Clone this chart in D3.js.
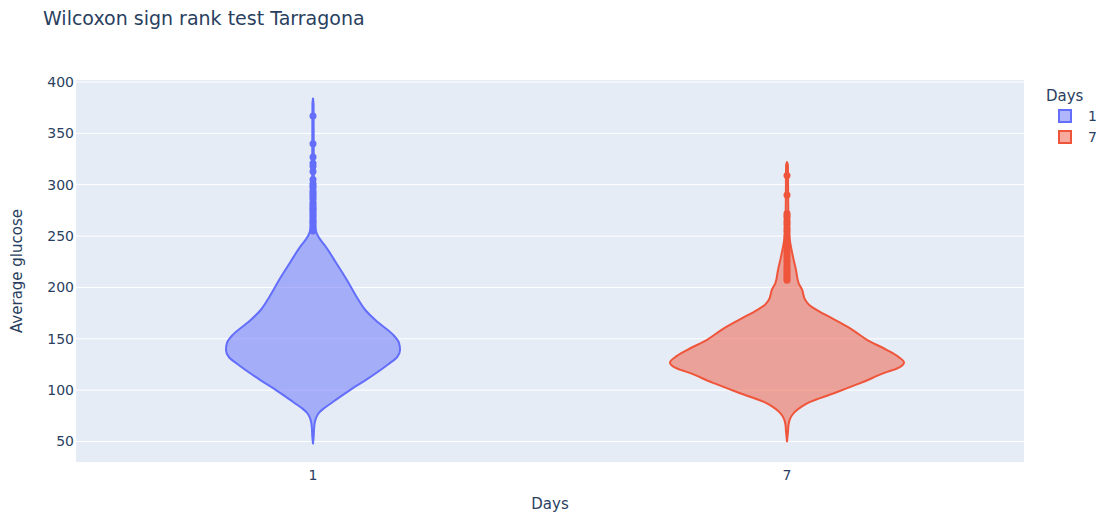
<!DOCTYPE html>
<html>
<head>
<meta charset="utf-8">
<script src="https://cdn.jsdelivr.net/npm/d3@7"></script>
<style>
  body { margin: 0; background: #fff; }
  svg text { font-family: Verdana, "DejaVu Sans", sans-serif; fill: #2a3f5f; }
</style>
</head>
<body>
<div id="wrapper"></div>
<script>
// data
const days = ["1", "7"]
const colors = ["#636efa", "#EF553B"]
const yTicks = [50, 100, 150, 200, 250, 300, 350, 400]

// violin outlines: glucose level and relative density
const day1Levels = [384, 378, 344, 305, 271, 258, 251, 246, 240, 224, 207, 191, 178, 168, 154, 146, 139, 132, 125, 110, 100, 91, 86, 82, 78, 74, 69, 62, 55, 48]
const day1Density = [0, 0.005, 0.006, 0.007, 0.009, 0.020, 0.038, 0.066, 0.107, 0.197, 0.291, 0.372, 0.447, 0.535, 0.684, 0.735, 0.744, 0.718, 0.641, 0.453, 0.316, 0.201, 0.140, 0.090, 0.052, 0.030, 0.016, 0.009, 0.006, 0]

const day7Levels = [322, 319, 285, 256, 246, 230, 217, 204, 198, 188, 183, 178, 171, 159, 149, 139, 132, 127, 122, 117, 107, 97, 88, 84, 80, 76, 72, 67, 59, 50]
const day7Density = [0, 0.008, 0.010, 0.014, 0.024, 0.051, 0.077, 0.100, 0.128, 0.155, 0.190, 0.256, 0.368, 0.556, 0.684, 0.855, 0.957, 1.0, 0.957, 0.838, 0.632, 0.402, 0.188, 0.125, 0.078, 0.046, 0.026, 0.014, 0.008, 0]

// outlier points
const day1Outliers = [367, 340, 327, 321, 318, 313, 305, 301, 299, 297, 294, 292, 290, 288, 286, 283, 281, 279, 277, 276, 274, 272, 270, 268, 266, 264, 263, 261, 259, 257, 255]
const day7Outliers = [309, 290, 272, 270, 268, 265, 263, 261, 258, 256, 254, 251, 249, 246, 244, 241, 239, 236, 234, 231, 229, 226, 224, 221, 219, 217, 215, 213, 211, 209, 207]

const violins = [
    { day: days[0], levels: day1Levels, density: day1Density, outliers: day1Outliers, color: colors[0] },
    { day: days[1], levels: day7Levels, density: day7Density, outliers: day7Outliers, color: colors[1] },
]

// dimensions
let dimensions = {
    width: 1104,
    height: 514,
    margin: { top: 80, right: 80, bottom: 52, left: 76 },
}
dimensions.boundedWidth = dimensions.width - dimensions.margin.left - dimensions.margin.right
dimensions.boundedHeight = dimensions.height - dimensions.margin.top - dimensions.margin.bottom

const wrapper = d3.select("#wrapper")
    .append("svg")
    .attr("width", dimensions.width)
    .attr("height", dimensions.height)

const bounds = wrapper.append("g")
    .attr("transform", `translate(${dimensions.margin.left},${dimensions.margin.top})`)

bounds.append("rect")
    .attr("width", dimensions.boundedWidth)
    .attr("height", dimensions.boundedHeight)
    .attr("fill", "#E5ECF6")

// scales
const xScale = d3.scaleBand()
    .domain(days)
    .range([0, dimensions.boundedWidth])
const yScale = d3.scaleLinear()
    .domain([30, 402])
    .range([dimensions.boundedHeight, 0])
const widthScale = d3.scaleLinear()
    .domain([0, 1])
    .range([0, 117])

// grid
bounds.append("g")
    .selectAll("line")
    .data(yTicks)
    .join("line")
    .attr("x1", 0)
    .attr("x2", dimensions.boundedWidth)
    .attr("y1", d => yScale(d))
    .attr("y2", d => yScale(d))
    .attr("stroke", "#fff")
    .attr("stroke-width", 1)

// violins
violins.forEach(v => {
    const cx = xScale(v.day) + xScale.bandwidth() / 2
    const profile = v.levels.map((l, i) => ({ level: l, density: v.density[i] }))
    const area = d3.area()
        .y(d => yScale(d.level))
        .x0(d => cx - widthScale(d.density))
        .x1(d => cx + widthScale(d.density))
        .curve(d3.curveMonotoneY)
    const g = bounds.append("g")
    g.append("path")
        .datum(profile)
        .attr("d", area)
        .attr("fill", v.color)
        .attr("fill-opacity", 0.5)
        .attr("stroke", v.color)
        .attr("stroke-width", 2)
        .attr("stroke-linejoin", "round")
    g.selectAll("circle")
        .data(v.outliers)
        .join("circle")
        .attr("cx", cx)
        .attr("cy", d => yScale(d))
        .attr("r", 3.5)
        .attr("fill", v.color)
})

// axes labels
const yAxis = bounds.append("g")
yAxis.selectAll("text")
    .data(yTicks)
    .join("text")
    .attr("x", -2)
    .attr("y", d => yScale(d))
    .attr("dy", "0.35em")
    .attr("text-anchor", "end")
    .style("font-size", "14px")
    .text(d => d)

const xAxis = bounds.append("g")
xAxis.selectAll("text")
    .data(days)
    .join("text")
    .attr("x", d => xScale(d) + xScale.bandwidth() / 2)
    .attr("y", dimensions.boundedHeight + 18)
    .attr("text-anchor", "middle")
    .style("font-size", "14px")
    .text(d => d)

bounds.append("text")
    .attr("x", dimensions.boundedWidth / 2)
    .attr("y", dimensions.boundedHeight + 47)
    .attr("text-anchor", "middle")
    .style("font-size", "15px")
    .text("Days")

wrapper.append("text")
    .attr("transform", `translate(22,${dimensions.margin.top + dimensions.boundedHeight / 2}) rotate(-90)`)
    .attr("text-anchor", "middle")
    .style("font-size", "15px")
    .text("Average glucose")

// title
wrapper.append("text")
    .attr("x", 43)
    .attr("y", 25)
    .style("font-size", "19px")
    .text("Wilcoxon sign rank test Tarragona")

// legend
const legend = wrapper.append("g")
    .attr("transform", "translate(1046,0)")
legend.append("text")
    .attr("x", 0)
    .attr("y", 101)
    .style("font-size", "15px")
    .text("Days")
const legendItems = legend.selectAll(".legend-item")
    .data(violins)
    .join("g")
    .attr("class", "legend-item")
    .attr("transform", (d, i) => `translate(0,${116 + i * 21})`)
legendItems.append("rect")
    .attr("x", 13)
    .attr("y", -6)
    .attr("width", 12)
    .attr("height", 12)
    .attr("fill", d => d.color)
    .attr("fill-opacity", 0.5)
    .attr("stroke", d => d.color)
    .attr("stroke-width", 2)
legendItems.append("text")
    .attr("x", 42)
    .attr("y", 0)
    .attr("dy", "0.35em")
    .style("font-size", "14px")
    .text(d => d.day)
</script>
</body>
</html>
